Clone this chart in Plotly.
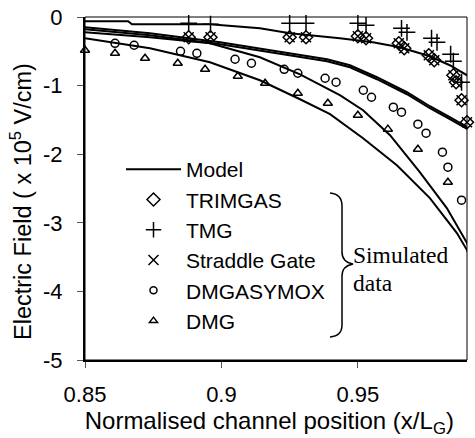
import plotly.graph_objects as go

# ---------------- data ----------------
model_x = [
    [0.850, 0.8658, 0.8672, 0.8958, 0.9141, 0.9251, 0.9434, 0.9555, 0.9654, 0.9764, 0.9837, 0.9900, 0.9929],
    [0.850, 0.8738, 0.8995, 0.9203, 0.9387, 0.9471, 0.9570, 0.9680, 0.9764, 0.9837, 0.9900, 0.9929],
    [0.850, 0.8738, 0.8995, 0.9203, 0.9387, 0.9471, 0.9570, 0.9680, 0.9764, 0.9837, 0.9900, 0.9929],
    [0.850, 0.8738, 0.8958, 0.9141, 0.9288, 0.9434, 0.9519, 0.9618, 0.9727, 0.9826, 0.9900, 0.9929],
    [0.850, 0.8738, 0.8958, 0.9141, 0.9288, 0.9398, 0.9519, 0.9643, 0.9764, 0.9863, 0.9900, 0.9929],
]
model_y = [
    [-0.063, -0.063, -0.106, -0.106, -0.165, -0.237, -0.310, -0.368, -0.441, -0.572, -0.703, -0.849, -0.893],
    [-0.150, -0.237, -0.368, -0.500, -0.616, -0.703, -0.878, -1.097, -1.301, -1.461, -1.606, -1.665],
    [-0.179, -0.267, -0.398, -0.529, -0.645, -0.733, -0.907, -1.126, -1.330, -1.490, -1.635, -1.694],
    [-0.223, -0.296, -0.383, -0.587, -0.835, -1.140, -1.359, -1.723, -2.262, -2.786, -3.296, -3.587],
    [-0.310, -0.456, -0.660, -0.922, -1.199, -1.417, -1.767, -2.160, -2.640, -3.150, -3.398, -3.689],
]

trimgas_x = [0.888, 0.896, 0.925, 0.931, 0.950, 0.953, 0.965, 0.967, 0.976, 0.978, 0.985, 0.986, 0.988, 0.990]
trimgas_y = [-0.296, -0.296, -0.296, -0.296, -0.281, -0.310, -0.383, -0.456, -0.558, -0.631, -0.849, -0.951, -1.213, -1.534]

tmg_x = [0.888, 0.896, 0.925, 0.931, 0.950, 0.953, 0.966, 0.968, 0.977, 0.979, 0.984, 0.985, 0.988]
tmg_y = [-0.092, -0.106, -0.092, -0.092, -0.092, -0.121, -0.165, -0.223, -0.310, -0.368, -0.543, -0.645, -0.951]

straddle_x = [0.888, 0.896, 0.925, 0.931, 0.950, 0.953, 0.965, 0.967, 0.976, 0.978, 0.985, 0.986, 0.988, 0.990]
straddle_y = [-0.296, -0.296, -0.296, -0.296, -0.281, -0.310, -0.383, -0.456, -0.558, -0.631, -0.849, -0.951, -1.213, -1.534]

dmgasymox_x = [0.861, 0.868, 0.885, 0.891, 0.905, 0.911, 0.923, 0.928, 0.938, 0.942,
               0.952, 0.955, 0.963, 0.966, 0.972, 0.975, 0.981, 0.983, 0.988]
dmgasymox_y = [-0.383, -0.412, -0.500, -0.529, -0.616, -0.674, -0.762, -0.820, -0.893, -0.951,
               -1.068, -1.170, -1.315, -1.388, -1.563, -1.694, -1.971, -2.189, -2.670]

dmg_x = [0.850, 0.861, 0.872, 0.884, 0.894, 0.906, 0.916, 0.928, 0.939, 0.950, 0.961, 0.972, 0.983]
dmg_y = [-0.485, -0.529, -0.602, -0.674, -0.762, -0.864, -0.966, -1.111, -1.257, -1.432, -1.635, -1.927, -2.409]

x_ticks = [0.85, 0.9, 0.95]
x_ticktext = ["0.85", "0.9", "0.95"]
y_ticks = [0, -1, -2, -3, -4, -5]
y_ticktext = ["0", "-1", "-2", "-3", "-4", "-5"]

# ---------------- figure ----------------
FONT = "Arial, Liberation Sans, sans-serif"
SERIF = "Liberation Serif, Times New Roman, serif"
fig = go.Figure()

for i, (mx, my) in enumerate(zip(model_x, model_y)):
    fig.add_trace(go.Scatter(
        x=mx, y=my, mode="lines", name="Model", legendgroup="model",
        showlegend=(i == 0), cliponaxis=False,
        line=dict(color="black", width=2, shape="linear"),
    ))

series = [
    ("TRIMGAS", trimgas_x, trimgas_y, "diamond-open", 10, 10),
    ("TMG", tmg_x, tmg_y, "cross-thin-open", 12, 11),
    ("Straddle Gate", straddle_x, straddle_y, "x-thin-open", 10, 10),
    ("DMGASYMOX", dmgasymox_x, dmgasymox_y, "circle-open", 8, 7),
    ("DMG", dmg_x, dmg_y, "triangle-up-open", 8, 7),
]
for name, x, y, sym, size, lsize in series:
    fig.add_trace(go.Scatter(
        x=x, y=y, mode="markers", name=name, showlegend=False, cliponaxis=False,
        marker=dict(symbol=sym, size=size, color="black", line=dict(color="black", width=1.5)),
    ))
    fig.add_trace(go.Scatter(
        x=[None], y=[None], mode="markers", name=name, showlegend=True,
        marker=dict(symbol=sym, size=lsize, color="black", line=dict(color="black", width=1.5)),
    ))

L, R, T, B = 85, 8, 17, 78
W, H = 475, 438
pw, ph = W - L - R, H - T - B

def px(xp, yp):
    return (xp - L) / pw, (H - B - yp) / ph

# brace drawn in pixel space, converted to paper coords
brace_pts = [("M", (330, 193)), ("Q", (342, 194), (342, 206)), ("L", (342, 252)),
             ("Q", (342, 262), (353, 264)), ("Q", (342, 266), (342, 276)),
             ("L", (342, 325)), ("Q", (342, 336), (330, 337))]
path = ""
for seg in brace_pts:
    cmd = seg[0]
    coords = " ".join("%.4f,%.4f" % px(*p) for p in seg[1:])
    path += f"{cmd}{coords} "

fig.add_shape(type="path", path=path.strip(), xref="paper", yref="paper",
              line=dict(color="black", width=1.5))
fig.add_shape(type="rect", x0=0, x1=1, y0=0, y1=1, xref="paper", yref="paper",
              line=dict(color="black", width=1), layer="above")

for txt, ypix in [("Simulated", 255), ("data", 283)]:
    tx, ty = px(354, ypix)
    fig.add_annotation(text=txt, x=tx, y=ty, xref="paper", yref="paper",
                       xanchor="left", yanchor="middle", align="left", showarrow=False,
                       xshift=-3, font=dict(family=SERIF, size=23.5, color="black"))

lx, ly = px(121, 149)
fig.update_layout(
    width=W, height=H,
    margin=dict(l=L, r=R, t=T, b=B, pad=0, autoexpand=False),
    paper_bgcolor="white", plot_bgcolor="white",
    font=dict(family=FONT, color="black", size=22),
    showlegend=True,
    legend=dict(x=lx, y=ly, xanchor="left", yanchor="top", bgcolor="rgba(0,0,0,0)",
                font=dict(family=FONT, size=21, color="black"), itemwidth=55,
                tracegroupgap=0),
    xaxis=dict(range=[0.85, 0.99], tickvals=x_ticks, ticktext=x_ticktext, automargin=False,
               showgrid=False, zeroline=False, showline=True, linecolor="black", linewidth=2,
               ticks="outside", ticklen=6, tickcolor="#555", tickwidth=1,
               tickfont=dict(size=22), ticklabelstandoff=8,
               title=dict(text="Normalised channel position (x/L<sub>G</sub>)&nbsp;&nbsp;",
                          font=dict(size=24), standoff=11)),
    yaxis=dict(range=[-5, 0], tickvals=y_ticks, ticktext=y_ticktext, automargin=False,
               showgrid=False, zeroline=False, showline=True, linecolor="black", linewidth=2,
               ticks="outside", ticklen=6, tickcolor="#555", tickwidth=1,
               tickfont=dict(size=22), ticklabelstandoff=10,
               title=dict(text="Electric Field ( x 10<sup>5</sup> V/cm)&nbsp;&nbsp;&nbsp;&nbsp;",
                          font=dict(size=23.5), standoff=5)),
)

fig.write_html("out.html", config={"displayModeBar": False},
               post_script="document.body.style.margin='0';")
